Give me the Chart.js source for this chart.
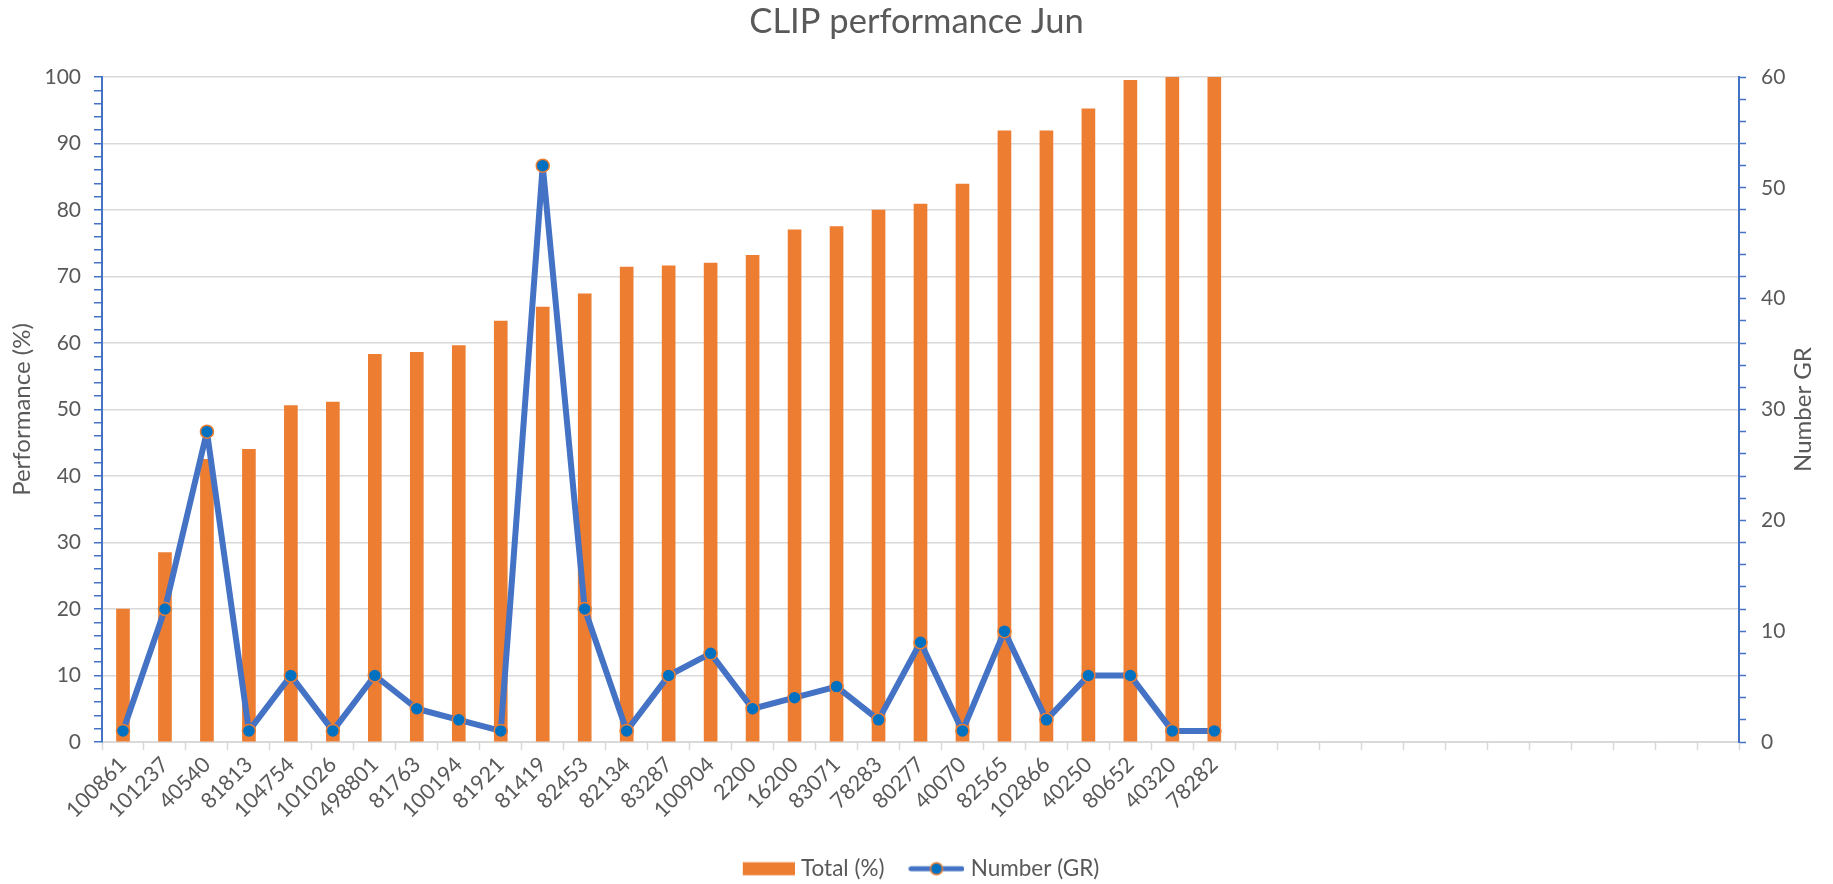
<!DOCTYPE html>
<html>
<head>
<meta charset="utf-8">
<script src="https://cdn.jsdelivr.net/npm/chart.js@4/dist/chart.umd.min.js"></script>
<style>
html,body{margin:0;padding:0;background:#ffffff;}
#wrap{width:1833px;height:884px;position:relative;}
</style>
</head>
<body>
<div id="wrap"><canvas id="c" width="1833" height="884"></canvas></div>
<script>
// ---- data ----
const categories = ['100861','101237','40540','81813','104754','101026','498801','81763','100194','81921','81419','82453','82134','83287','100904','2200','16200','83071','78283','80277','40070','82565','102866','40250','80652','40320','78282'];
const emptyCategoryCount = 12;
const totalPct = [20,28.5,42.5,44,50.6,51.1,58.3,58.6,59.6,63.3,65.4,67.4,71.4,71.6,72,73.2,77,77.5,80,80.9,83.9,91.9,91.9,95.2,99.5,100,100];
const numberGR = [1,12,28,1,6,1,6,3,2,1,52,12,1,6,8,3,4,5,2,9,1,10,2,6,6,1,1];
const leftAxisRange = [0,100];
const rightAxisRange = [0,60];
const majorStep = 10;
const minorStep = 2;
const chartTitle = 'CLIP performance Jun';
const leftAxisTitle = 'Performance (%)';
const rightAxisTitle = 'Number GR';
const seriesNames = ['Total (%)','Number (GR)'];

const labels = categories.concat(new Array(emptyCategoryCount).fill(''));

const ORANGE = '#ED7D31', BLUE = '#4472C4', DOT = '#0070C0', GRID = '#D9D9D9', TEXT = '#595959';
const FONT = 'Lato, "Open Sans", sans-serif';
const W = 1833, H = 884, PLOT_LEFT = 102, PLOT_RIGHT = 1739, PLOT_BOTTOM = 742, BOTTOM_PAD = -6;

// legend symbols
function makeSymbol(kind){
  const cv = document.createElement('canvas');
  cv.width = 66; cv.height = 16;
  const g = cv.getContext('2d');
  if (kind === 'bar') {
    g.fillStyle = ORANGE;
    g.fillRect(14, 1.5, 52, 13);
  } else {
    g.strokeStyle = BLUE; g.lineWidth = 5; g.lineCap = 'round';
    g.beginPath(); g.moveTo(12.5, 8); g.lineTo(63.5, 8); g.stroke();
    g.beginPath(); g.arc(38, 8, 6, 0, Math.PI*2);
    g.fillStyle = DOT; g.fill();
    g.lineWidth = 1.5; g.strokeStyle = ORANGE; g.stroke();
  }
  return cv;
}
const symBar = makeSymbol('bar');
const symLine = makeSymbol('line');

const rightTitlePlugin = {
  id: 'rightTitle',
  afterDraw(chart){
    const ctx = chart.ctx, a = chart.chartArea;
    ctx.save();
    ctx.fillStyle = TEXT;
    ctx.font = '24px ' + FONT;
    ctx.textAlign = 'center';
    ctx.textBaseline = 'middle';
    ctx.translate(1803, (a.top + a.bottom)/2);
    ctx.rotate(-Math.PI/2);
    ctx.fillText(rightAxisTitle, 0, 0);
    ctx.restore();
  }
};

const majorOnly = v => (Math.round(v) % majorStep === 0 ? String(v) : '');

new Chart(document.getElementById('c'), {
  data: {
    labels: labels,
    datasets: [
      {
        type: 'line',
        label: seriesNames[1],
        data: numberGR,
        yAxisID: 'y1',
        borderColor: BLUE,
        borderWidth: 6,
        borderJoinStyle: 'round',
        tension: 0,
        pointRadius: 6.5,
        pointHoverRadius: 6.5,
        pointBackgroundColor: DOT,
        pointBorderColor: ORANGE,
        pointBorderWidth: 1.5,
        order: 1
      },
      {
        type: 'bar',
        label: seriesNames[0],
        data: totalPct,
        yAxisID: 'y',
        backgroundColor: ORANGE,
        borderWidth: 0,
        barThickness: 13,
        order: 2
      }
    ]
  },
  options: {
    responsive: false,
    animation: false,
    devicePixelRatio: 1,
    layout: { padding: { left: 0, right: 0, top: 0, bottom: BOTTOM_PAD } },
    plugins: {
      tooltip: { enabled: false },
      title: {
        display: true,
        text: chartTitle,
        color: TEXT,
        font: { family: FONT, size: 34.5, weight: 'normal', lineHeight: 1.2 },
        padding: { top: 1, bottom: 34.6 }
      },
      legend: {
        position: 'bottom',
        labels: {
          usePointStyle: true,
          pointStyleWidth: 56,
          padding: 19,
          color: TEXT,
          font: { family: FONT, size: 22.5 },
          generateLabels: () => [
            { text: seriesNames[0], pointStyle: symBar, fillStyle: ORANGE, strokeStyle: ORANGE, lineWidth: 0, datasetIndex: 1, fontColor: TEXT },
            { text: seriesNames[1], pointStyle: symLine, fillStyle: DOT, strokeStyle: BLUE, lineWidth: 0, datasetIndex: 0, fontColor: TEXT }
          ]
        }
      }
    },
    scales: {
      x: {
        type: 'category',
        offset: true,
        grid: { display: true, drawOnChartArea: false, offset: true, drawTicks: true, tickLength: 8, tickColor: GRID, tickWidth: 1.5 },
        border: { display: true, color: GRID, width: 2 },
        ticks: { autoSkip: false, maxRotation: 45, minRotation: 45, color: TEXT, font: { family: FONT, size: 21.5 }, padding: 2 },
        afterFit: s => { s.height = H - BOTTOM_PAD - PLOT_BOTTOM - (s.chart.legend ? s.chart.legend.height : 0); }
      },
      y: {
        position: 'left',
        min: leftAxisRange[0], max: leftAxisRange[1],
        grid: {
          color: c => (c.tick && Math.round(c.tick.value) % majorStep === 0 ? GRID : 'rgba(0,0,0,0)'),
          lineWidth: 1.5,
          drawTicks: true, tickLength: 8, tickColor: BLUE, tickWidth: 1.5
        },
        border: { display: true, color: BLUE, width: 2 },
        ticks: { stepSize: minorStep, autoSkip: false, callback: majorOnly, color: TEXT, font: { family: FONT, size: 21 }, padding: 13 },
        title: { display: true, text: leftAxisTitle, color: TEXT, font: { family: FONT, size: 24 }, padding: { top: 8, bottom: 0 } },
        afterFit: s => { s.width = PLOT_LEFT; }
      },
      y1: {
        position: 'right',
        min: rightAxisRange[0], max: rightAxisRange[1],
        grid: { drawOnChartArea: false, drawTicks: true, tickLength: 7, tickColor: BLUE, tickWidth: 1.5 },
        border: { display: true, color: BLUE, width: 2 },
        ticks: { stepSize: minorStep, autoSkip: false, callback: majorOnly, color: TEXT, font: { family: FONT, size: 21 }, padding: 15 },
        afterFit: s => { s.width = W - PLOT_RIGHT; }
      }
    }
  },
  plugins: [rightTitlePlugin]
});
</script>
</body>
</html>
